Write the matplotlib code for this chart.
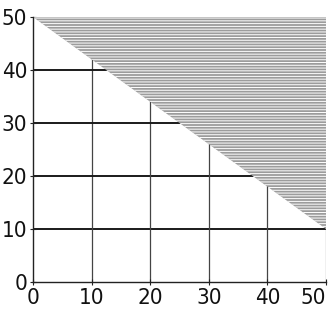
import numpy as np
import matplotlib
matplotlib.use("Agg")
import matplotlib.pyplot as plt

# Feasible-region boundary: y = 50 - 0.8 x
x_line = [0, 50]
y_line = [50, 10]
ticks = [0, 10, 20, 30, 40, 50]
grid_vals = [10, 20, 30, 40]

plt.rcParams['hatch.color'] = 'white'
plt.rcParams['hatch.linewidth'] = 0.7

fig = plt.figure(figsize=(3.34, 3.24), dpi=100)
ax = fig.add_axes([0.0988, 0.1296, 0.8772, 0.818])
ax.set_xlim(0, 50)
ax.set_ylim(0, 50)

# grid lines underneath the shaded region
for v in grid_vals:
    ax.axhline(v, color='#1a1a1a', lw=1.4, zorder=1)
    ax.axvline(v, color='#444444', lw=0.9, zorder=1)
ax.axvline(50, color='#888888', lw=0.9, zorder=1)

# shaded region above the boundary
ax.fill_between(x_line, y_line, [50, 50], facecolor='#9c9c9c', edgecolor='white',
                hatch='------', lw=0, zorder=2)

for s in ['top', 'right']:
    ax.spines[s].set_visible(False)
for s in ['left', 'bottom']:
    ax.spines[s].set_color('#222222')
    ax.spines[s].set_linewidth(1.0)
    ax.spines[s].set_zorder(3)

ax.set_xticks(ticks)
ax.set_yticks(ticks)
ax.tick_params(direction='inout', length=4, width=0.8, colors='#222222', pad=2)
for lab in ax.get_xticklabels() + ax.get_yticklabels():
    lab.set_family(['DejaVu Sans'])
    lab.set_fontstretch('condensed')
    lab.set_fontsize(16)
    lab.set_color('#111111')
# keep the last x label inside the figure
ax.get_xticklabels()[-1].set_horizontalalignment('right')
ax.get_xticklabels()[-1].set_x(50.8)

fig.savefig('out.png', dpi=100)
